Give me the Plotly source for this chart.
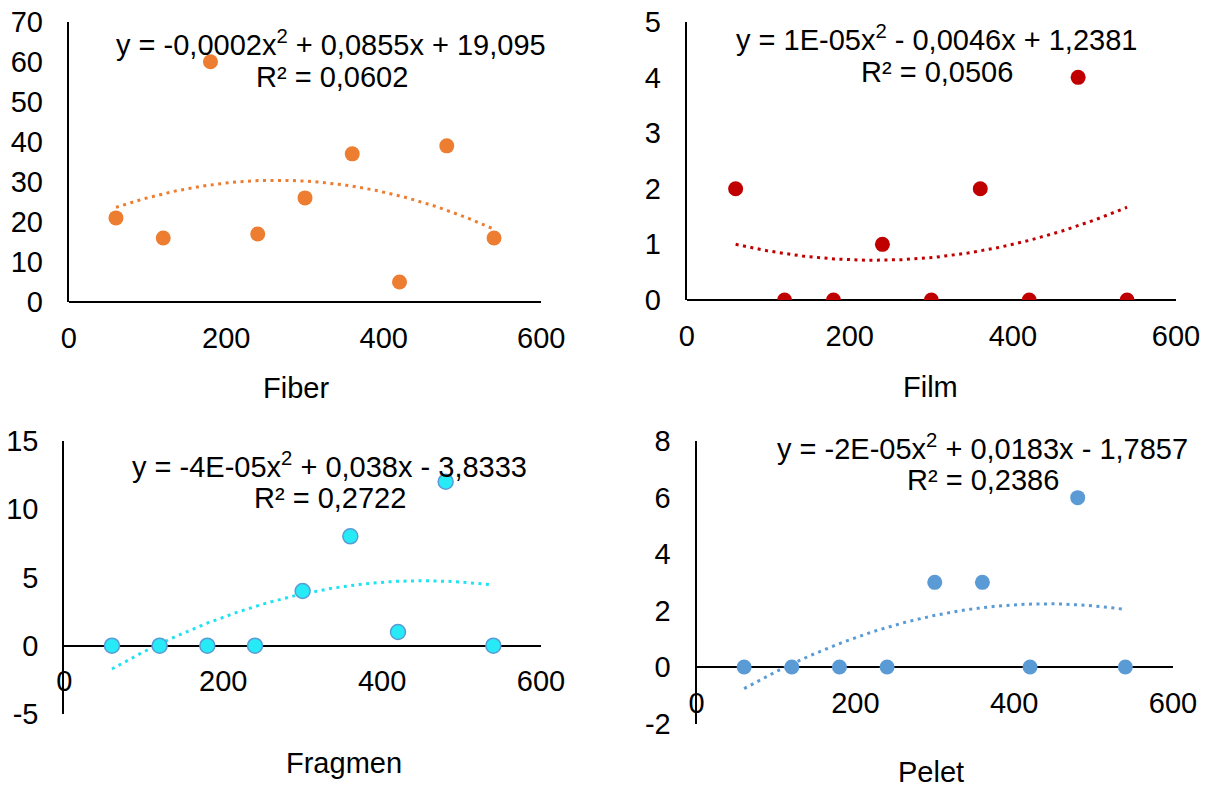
import numpy as np
import plotly.graph_objects as go

W, H = 1212, 787
OFF = 8  # page body margin offset in the browser

# ---- data ----
x_vals = [60, 120, 180, 240, 300, 360, 420, 480, 540]
fiber = [21, 16, 60, 17, 26, 37, 5, 39, 16]
film = [2, 0, 0, 1, 0, 2, 0, 4, 0]
fragmen = [0, 0, 0, 0, 4, 8, 1, 12, 0]
pelet = [0, 0, 0, 0, 3, 3, 0, 6, 0]

names = ["Fiber", "Film", "Fragmen", "Pelet"]
eq_text = [
    "y = -0,0002x<sup>2</sup> + 0,0855x + 19,095",
    "y = 1E-05x<sup>2</sup> - 0,0046x + 1,2381",
    "y = -4E-05x<sup>2</sup> + 0,038x - 3,8333",
    "y = -2E-05x<sup>2</sup> + 0,0183x - 1,7857",
]
r2_text = ["R² = 0,0602", "R² = 0,0506", "R² = 0,2722", "R² = 0,2386"]
y_ranges = [[0, 70], [0, 5], [-5, 15], [-2, 8]]
y_tickvals = [
    [0, 10, 20, 30, 40, 50, 60, 70],
    [0, 1, 2, 3, 4, 5],
    [-5, 0, 5, 10, 15],
    [-2, 0, 2, 4, 6, 8],
]
y_ticktext = [
    ["0", "10", "20", "30", "40", "50", "60", "70"],
    ["0", "1", "2", "3", "4", "5"],
    ["-5", "0", "5", "10", "15"],
    ["-2", "0", "2", "4", "6", "8"],
]
x_range = [0, 600]
x_tickvals = [0, 200, 400, 600]
x_ticktext = ["0", "200", "400", "600"]

# ---- styles / layout (screen pixels of the reference) ----
series = [fiber, film, fragmen, pelet]
colors = ["#ED7D31", "#C00000", "#26EAF5", "#5B9BD5"]
line_colors = ["#ED7D31", "#C00000", "#1FE3F0", "#5B9BD5"]
outline = [None, None, "#5B9BD5", None]
xpx = [(68.7, 541.3), (686.7, 1176), (64.3, 541), (696.5, 1173)]
ypx = [(21.7, 302), (21.7, 300), (440.7, 714), (441.2, 723.5)]
eq_pos = [(331, 43), (936, 38), (329.5, 465), (982, 447)]
r2_pos = [(332, 77), (937, 72.5), (329.5, 498), (983, 480)]
title_pos = [(296, 388), (930, 387), (344, 763), (931, 772)]

FONT = "Liberation Sans, Arial, sans-serif"
FS = 29


def px_x(v):
    return (v - OFF) / W


def px_y(v):
    return 1 - (v - OFF) / H


fig = go.Figure()
layout = dict(
    width=W, height=H, margin=dict(l=0, r=0, t=0, b=0, autoexpand=False),
    paper_bgcolor="white", plot_bgcolor="white", showlegend=False,
    font=dict(family=FONT, size=FS, color="black"),
)
annotations = []

for i in range(4):
    k = "" if i == 0 else str(i + 1)
    xa, ya = "x" + k, "y" + k
    ys = series[i]
    coef = np.polyfit(x_vals, ys, 2)
    xt = np.linspace(min(x_vals), max(x_vals), 200)
    yt = np.polyval(coef, xt)
    fig.add_trace(go.Scatter(
        x=xt, y=yt, mode="lines", xaxis=xa, yaxis=ya,
        line=dict(color=line_colors[i], width=3, dash="3px,4.5px"),
        hoverinfo="skip"))
    mk = dict(color=colors[i], size=15)
    if outline[i]:
        mk["line"] = dict(color=outline[i], width=1.5)
    else:
        mk["line"] = dict(width=0)
    fig.add_trace(go.Scatter(x=x_vals, y=ys, mode="markers", xaxis=xa, yaxis=ya,
                             marker=mk, name=names[i]))

    x0, x1 = xpx[i]
    ytop, ybot = ypx[i]
    xdom = [px_x(x0), px_x(x1)]
    ydom = [px_y(ybot), px_y(ytop)]
    ymin, ymax = y_ranges[i]
    zero_pos = ydom[0] + (0 - ymin) / (ymax - ymin) * (ydom[1] - ydom[0])

    layout["xaxis" + k] = dict(
        domain=xdom, range=x_range, tickvals=x_tickvals, ticktext=x_ticktext,
        anchor="free", position=zero_pos, automargin=False,
        showline=True, linecolor="black", linewidth=2,
        showgrid=False, zeroline=False, ticks="",
        ticklabelstandoff=10, ticklabeloverflow="allow", layer="below traces",
        tickfont=dict(family=FONT, size=FS, color="black"),
    )
    layout["yaxis" + k] = dict(
        domain=ydom, range=y_ranges[i], tickvals=y_tickvals[i], ticktext=y_ticktext[i],
        anchor=xa, automargin=False, showline=True, linecolor="black", linewidth=2,
        showgrid=False, zeroline=False, ticks="",
        ticklabelstandoff=18, ticklabeloverflow="allow", layer="below traces",
        tickfont=dict(family=FONT, size=FS, color="black"),
    )

    for (px, py), txt in ((eq_pos[i], eq_text[i]), (r2_pos[i], r2_text[i]), (title_pos[i], names[i])):
        annotations.append(dict(
            x=px_x(px), y=px_y(py), xref="paper", yref="paper",
            text=txt, showarrow=False, xanchor="center", yanchor="middle",
            font=dict(family=FONT, size=FS, color="black")))

layout["annotations"] = annotations
fig.update_layout(**layout)
fig.write_html("out.html")
